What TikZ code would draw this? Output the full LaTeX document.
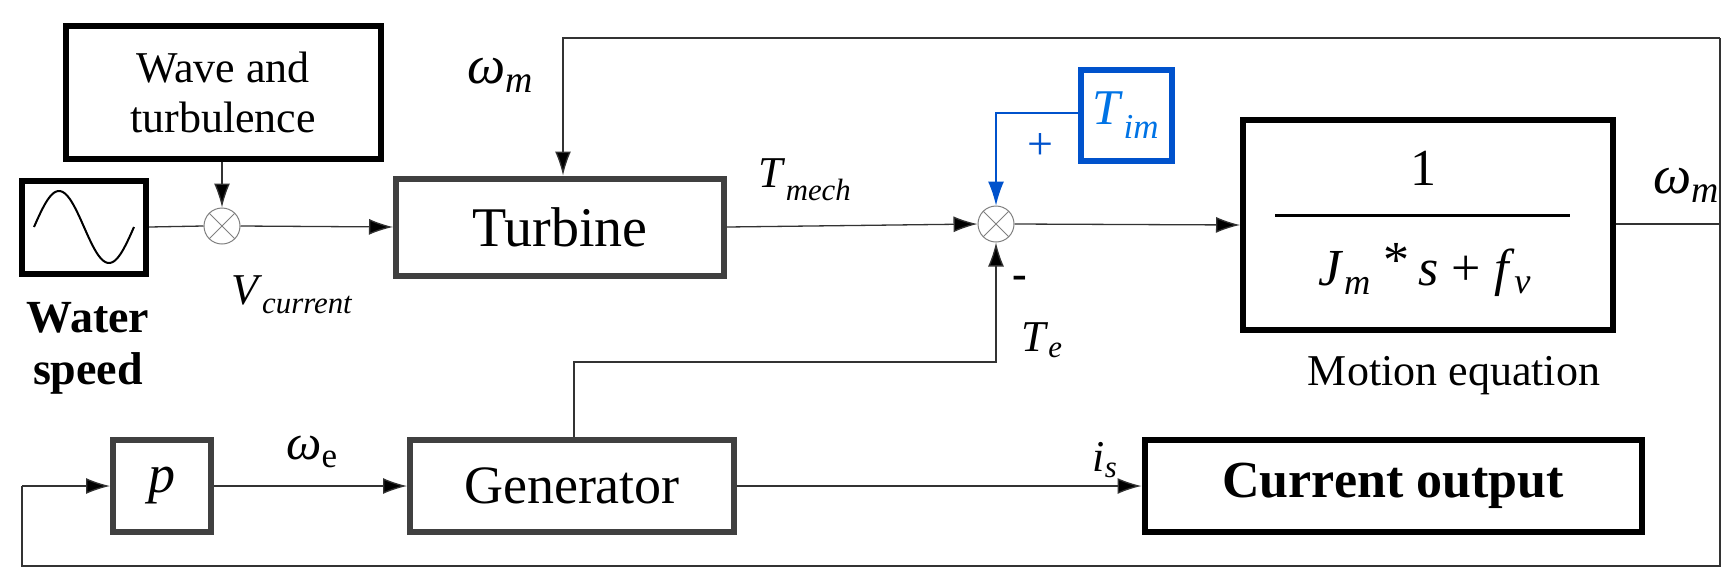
\documentclass[tikz,border=0pt]{standalone}
\usepackage{fontspec}
\setmainfont{Liberation Serif}[ItalicFont={Liberation Serif Italic},BoldFont={Liberation Serif Bold}]
\usetikzlibrary{arrows.meta}
\newcommand{\vr}[2]{\textit{#1}\textsubscript{\textit{#2}}}
\begin{document}
\begin{tikzpicture}[x=1pt,y=-1pt,
 blk/.style={draw=black,line width=6pt,inner sep=0pt},
 gblk/.style={draw=black!75,line width=6pt,inner sep=0pt},
 ln/.style={draw=black!80,line width=1.3pt},
 arr/.style={ln,-{Latex[length=24pt,width=16pt,fill=black]}},
 sum/.style={circle,draw=black!50,line width=1pt,minimum size=36pt,inner sep=0pt,path picture={\draw[black!50,line width=0.8pt] (path picture bounding box.north west)--(path picture bounding box.south east) (path picture bounding box.north east)--(path picture bounding box.south west);}},
 lab/.style={font=\fontsize{44}{46}\selectfont,inner sep=0pt},
 txt/.style={font=\fontsize{44}{46}\selectfont,inner sep=0pt}]
\useasboundingbox (0,0) rectangle (1732,587);
\node[blk,minimum width=315pt,minimum height=133pt,align=center,font=\fontsize{44}{50}\selectfont] (wave) at (223,92) {Wave and\\turbulence};
\node[blk,minimum width=124pt,minimum height=93pt] (sine) at (84,227) {};
\draw[line width=2pt] plot[domain=-50:50,samples=60] ({84+\x},{227-36*sin(3.6*(\x+50))});
\node[font=\bfseries\fontsize{46}{52}\selectfont,align=center,inner sep=0pt] at (88,348) {Water\\speed};
\node[sum] (s1) at (222,226) {};
\node[gblk,minimum width=328pt,minimum height=97pt,font=\fontsize{56}{58}\selectfont] (tur) at (560,227) {Turbine};
\node[sum] (s2) at (996,224) {};
\node[draw=blue!60!cyan!80!black,line width=6pt,minimum width=91pt,minimum height=91pt,inner sep=0pt,text=blue!50!cyan!90!black,font=\fontsize{50}{50}\selectfont] (tim) at (1126,115) {\vr{T}{im}};
\node[blk,minimum width=370pt,minimum height=210pt] (mot) at (1428,225) {};
\node[font=\fontsize{52}{54}\selectfont,inner sep=0pt] at (1423,168) {1};
\draw[line width=3pt] (1275,215) -- (1570,215);
\node[font=\fontsize{52}{54}\selectfont,inner sep=0pt] at (1425,270) {\vr{J}{m} \raisebox{8pt}{*}\,\textit{s} + \vr{f}{v}};
\node[txt] at (1454,376) {Motion equation};
\node[gblk,minimum width=98pt,minimum height=92pt,font=\fontsize{54}{54}\selectfont] (p) at (162,486) {\textit{p}};
\node[gblk,minimum width=324pt,minimum height=92pt,font=\fontsize{54}{56}\selectfont] (gen) at (572,486) {Generator};
\node[blk,minimum width=497pt,minimum height=92pt,font=\bfseries\fontsize{52}{54}\selectfont] (cur) at (1393,486) {Current output};
\coordinate (tl) at (563,38);
\coordinate (tr) at (1720,38);
\coordinate (rr) at (1720,224);
\coordinate (br) at (1720,566);
\coordinate (bl) at (22,566);
\coordinate (pl) at (22,486);
\coordinate (tec) at (574,362);
\coordinate (ted) at (996,362);
\coordinate (bc) at (996,113);
% connectors
\draw[arr] (wave.south -| s1) -- (s1);
\draw[ln] (sine.east) -- (s1.west);
\draw[arr] (s1.east) -- (tur.west);
\draw[arr] (tr) -- (tl) -- (tur.north -| tl);
\draw[arr] (tur.east) -- (s2.west);
\draw[arr] (s2.east) -- (mot.west);
\draw[ln] (mot.east |- rr) -- (rr) -- (br) -- (bl) -- (pl);
\draw[ln] (tr) -- (rr);
\draw[arr] (pl) -- (p.west);
\draw[arr] (p.east) -- (gen.west);
\draw[arr] (gen.east) -- (cur.west);
\draw[arr] (gen.north -| tec) -- (tec) -- (ted) -- (s2.south);
\draw[arr,draw=blue!60!cyan!80!black,-{Latex[length=24pt,width=16pt,fill=blue!60!cyan!80!black]}] (tim.west |- bc) -- (bc) -- (s2.north);
% labels
\node[font=\fontsize{54}{56}\selectfont,inner sep=0pt] at (500,75) {\vr{ω}{m}};
\node[lab] at (805,180) {\vr{T}{mech}};
\node[lab] at (292,295) {\vr{V}{current}};
\node[font=\fontsize{54}{56}\selectfont,inner sep=0pt] at (1686,185) {\vr{ω}{m}};
\node[lab] at (1042,340) {\vr{T}{e}};
\node[font=\bfseries\fontsize{44}{44}\selectfont] at (1020,282) {-};
\node[font=\fontsize{46}{46}\selectfont,text=blue!60!cyan!80!black] at (1040,147) {+};
\node[font=\fontsize{50}{52}\selectfont,inner sep=0pt] at (312,452) {\textit{ω}\textsubscript{e}};
\node[lab] at (1105,460) {\vr{i}{s}};
\end{tikzpicture}
\end{document}
